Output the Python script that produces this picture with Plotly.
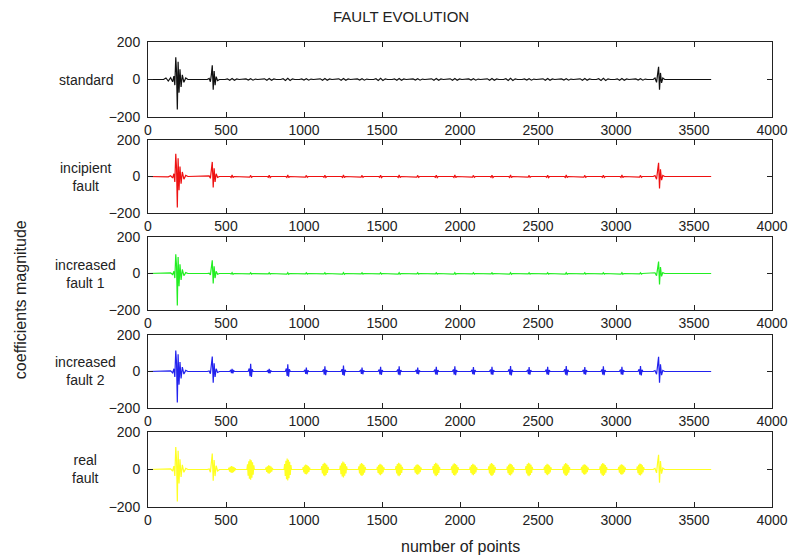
import plotly.graph_objects as go

# ---------------- data ----------------
series_names = ["standard", "incipient<br>fault", "increased<br>fault 1", "increased<br>fault 2", "real<br>fault"]
series_colors = ["#111111", "#ee1111", "#22ee22", "#2222ee", "#ffff22"]

x_ticks = [0, 500, 1000, 1500, 2000, 2500, 3000, 3500, 4000]
y_ticks = [-200, 0, 200]
x_end = 3610

# main burst near point 190
burstA_x = [100, 115, 130, 145, 158, 166, 172, 178, 183, 188, 193, 199, 205, 212, 220, 230, 242, 256]
burstA_y = {
    "standard": [0, 8, -8, 10, -12, 18, -30, 118, 40, -160, 95, -70, 55, -40, 25, -15, 8, 0],
    "incipient": [0, 2, -2, 4, -8, 15, -30, 125, 45, -170, 100, -75, 55, -40, 25, -15, 6, 0],
    "inc1": [0, 1, -1, 3, -6, 12, -25, 105, 40, -175, 90, -70, 50, -35, 22, -12, 5, 0],
    "inc2": [0, 1, -1, 3, -8, 15, -30, 115, 45, -170, 95, -72, 52, -38, 24, -14, 6, 0],
    "real": [0, 1, -1, 3, -8, 18, -35, 120, 50, -170, 100, -75, 55, -40, 25, -15, 6, 0],
}

# second burst near point 420
burstB_x = [380, 392, 400, 406, 412, 418, 424, 430, 437, 446, 458]
burstB_y = {
    "standard": [0, 6, -12, 25, 76, -55, 45, -30, 15, -6, 0],
    "incipient": [0, 3, -10, 25, 80, -60, 45, -30, 15, -5, 0],
    "inc1": [0, 2, -8, 22, 72, -55, 40, -25, 12, -4, 0],
    "inc2": [0, 3, -12, 30, 82, -62, 45, -30, 15, -5, 0],
    "real": [0, 3, -15, 30, 85, -60, 50, -35, 20, -8, 0],
}

# burst near point 3280
burstC_x = [3238, 3250, 3260, 3267, 3273, 3279, 3285, 3292, 3300, 3312]
burstC_y = {
    "standard": [0, 8, -15, 30, 68, -55, 35, -18, 8, 0],
    "incipient": [0, 5, -15, 35, 75, -65, 40, -20, 6, 0],
    "inc1": [0, 4, -12, 30, 65, -60, 35, -16, 5, 0],
    "inc2": [0, 5, -15, 35, 80, -62, 40, -20, 6, 0],
    "real": [0, 6, -18, 40, 78, -70, 45, -22, 8, 0],
}

# periodic fault bursts (centres) and per-series amplitudes
periodic_centres = [539, 658, 777, 896, 1015, 1134, 1253, 1372, 1491, 1610, 1729, 1848,
                    1967, 2086, 2205, 2324, 2443, 2562, 2681, 2800, 2919, 3038, 3157]
periodic_amp = {
    "standard": [5, 4, 5, 6, 4, 5, 5, 4, 6, 5, 4, 5, 5, 4, 5, 6, 4, 5, 4, 5, 6, 5, 4],
    "incipient": [8, 6, 7, 8, 6, 7, 8, 6, 7, 8, 6, 7, 8, 6, 7, 8, 6, 7, 8, 6, 7, 8, 6],
    "inc1": [5, 4, 4, 5, 4, 4, 5, 4, 4, 5, 4, 4, 5, 4, 4, 5, 4, 4, 5, 4, 4, 5, 4],
    "inc2": [15, 42, 14, 40, 22, 28, 32, 22, 26, 28, 22, 26, 28, 24, 26, 30, 24, 26, 30, 24, 28, 26, 30],
    "real": [18, 55, 22, 58, 26, 36, 42, 34, 30, 36, 28, 36, 33, 30, 34, 32, 36, 30, 34, 28, 34, 28, 32],
}
periodic_offsets = {
    "standard": [-45, -30, -15, 0, 15, 30, 45],
    "incipient": [-12, -6, 0, 6, 12],
    "inc1": [-12, -6, 0, 6, 12],
    "inc2": [-16, -9, -4, 0, 5, 10, 16],
    "real": [-24, -20, -16, -12, -8, -4, 0, 4, 8, 12, 16, 20, 24],
}
periodic_shape = {
    "standard": [0, 0.7, -0.8, 1, -0.9, 0.6, 0],
    "incipient": [0, -0.6, 1, -0.8, 0],
    "inc1": [0, -0.6, 1, -0.8, 0],
    "inc2": [0, 0.4, -0.6, 1, -0.7, 0.3, 0],
    "real": [0, 0.5, -0.6, 0.8, -0.9, 1, -1, 0.9, -0.8, 0.7, -0.5, 0.4, 0],
}
keys = ["standard", "incipient", "inc1", "inc2", "real"]

# ---------------- figure ----------------
# panel domains (paper fractions), top to bottom
domains = [(0.8387, 1.0), (0.6323, 0.7892), (0.4237, 0.5806), (0.2129, 0.3699), (0.0, 0.1613)]

fig = go.Figure()
font_family = "Liberation Sans, Arial, sans-serif"

for i, k in enumerate(keys):
    xs = [0] + burstA_x + burstB_x
    ys = [0] + burstA_y[k] + burstB_y[k]
    for c, a in zip(periodic_centres, periodic_amp[k]):
        for off, s in zip(periodic_offsets[k], periodic_shape[k]):
            xs.append(c + off)
            ys.append(a * s)
    xs += burstC_x + [x_end]
    ys += burstC_y[k] + [0]
    ax = "" if i == 0 else str(i + 1)
    fig.add_trace(go.Scatter(x=xs, y=ys, mode="lines",
                             line=dict(color=series_colors[i], width=1.2),
                             xaxis="x" + ax, yaxis="y" + ax, showlegend=False,
                             hoverinfo="skip"))
    axis_common = dict(showline=True, linecolor="#222", linewidth=1, mirror="ticks",
                       ticks="inside", ticklen=5, tickcolor="#222", showgrid=False,
                       zeroline=False, tickfont=dict(family=font_family, size=14, color="#222"))
    fig.update_layout(**{
        "xaxis" + ax: dict(domain=[0, 1], range=[0, 4000], tickvals=x_ticks,
                           anchor="y" + ax, **axis_common),
        "yaxis" + ax: dict(domain=list(domains[i]), range=[-200, 200], tickvals=y_ticks,
                           anchor="x" + ax, ticklabelstandoff=4, **axis_common),
    })
    fig.add_annotation(text=series_names[i], xref="paper", yref="paper",
                       x=-0.10, y=(domains[i][0] + domains[i][1]) / 2,
                       xanchor="center", yanchor="middle", showarrow=False,
                       font=dict(family=font_family, size=14, color="#222"))

fig.add_annotation(text="FAULT EVOLUTION", xref="paper", yref="paper", x=0.405, y=1.054,
                   xanchor="center", yanchor="middle", showarrow=False,
                   font=dict(family=font_family, size=15, color="#222"))
fig.add_annotation(text="number of points", xref="paper", yref="paper", x=0.5, y=-0.086,
                   xanchor="center", yanchor="middle", showarrow=False,
                   font=dict(family=font_family, size=16, color="#222"))
fig.add_annotation(text="coefficients magnitude", xref="paper", yref="paper", x=-0.205, y=0.445,
                   xanchor="center", yanchor="middle", showarrow=False, textangle=-90,
                   font=dict(family=font_family, size=16, color="#222"))

fig.update_layout(width=800, height=560, margin=dict(l=148, r=18, t=42, b=53),
                  paper_bgcolor="white", plot_bgcolor="white")

fig.write_html("out.html")
